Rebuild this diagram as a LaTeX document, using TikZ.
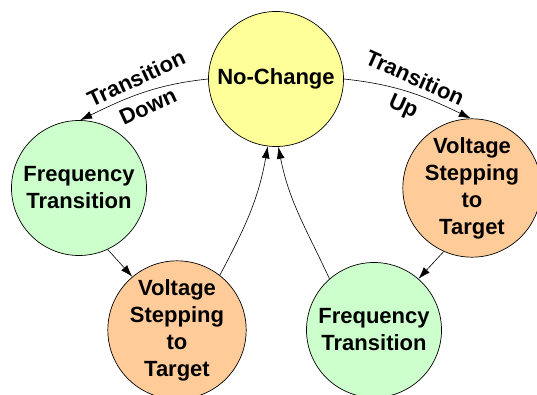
\documentclass[tikz,border=0pt]{standalone}
\usepackage{fontspec}
\setsansfont{Liberation Sans}
\usepackage{tikz}
\usetikzlibrary{arrows.meta, positioning, calc}

\definecolor{ncyellow}{RGB}{255,255,153}
\definecolor{ftgreen}{RGB}{204,255,204}
\definecolor{vsorange}{RGB}{255,204,153}

\begin{document}
\begin{tikzpicture}[x=1pt, y=-1pt,
  state/.style={circle, draw, line width=0.7pt, minimum size=135pt, inner sep=0pt,
    align=center, font=\sffamily\bfseries\fontsize{22}{27}\selectfont},
  trans/.style={line width=0.6pt, -{Latex[length=12pt,width=8pt]}},
  lbl/.style={sloped, inner sep=1.5pt, font=\sffamily\bfseries\fontsize{22}{27}\selectfont}]
\useasboundingbox (0,0) rectangle (537,395);
% States
\node[state, fill=ncyellow] (NC) at (276,79) {No-Change};
\node[state, fill=ftgreen] (FL) at (79,188) {Frequency\\Transition};
\node[state, fill=vsorange] (VL) at (177,330) {Voltage\\Stepping\\to\\Target};
\node[state, fill=vsorange] (VR) at (472,188) {Voltage\\Stepping\\to\\Target};
\node[state, fill=ftgreen] (FR) at (374,330) {Frequency\\Transition};
% Going down
\draw[trans] (NC.180) to[out=186, in=26]
  node[lbl, rotate=6, above=6pt] {Transition}
  node[lbl, rotate=6, below=5pt] {Down} (FL.89);
\draw[trans] (FL.-65) -- (VL.130);
\draw[trans] (VL.52) to[out=62, in=-100] (NC.-97);
% Going up
\draw[trans] (NC.0) to[out=-6, in=154]
  node[lbl, rotate=-6, above=6pt] {Transition}
  node[lbl, rotate=-6, below=5pt] {Up} (VR.91);
\draw[trans] (VR.-114) -- (FR.49);
\draw[trans] (FR.131) to[out=115, in=-79] (NC.-88);
\end{tikzpicture}
\end{document}
